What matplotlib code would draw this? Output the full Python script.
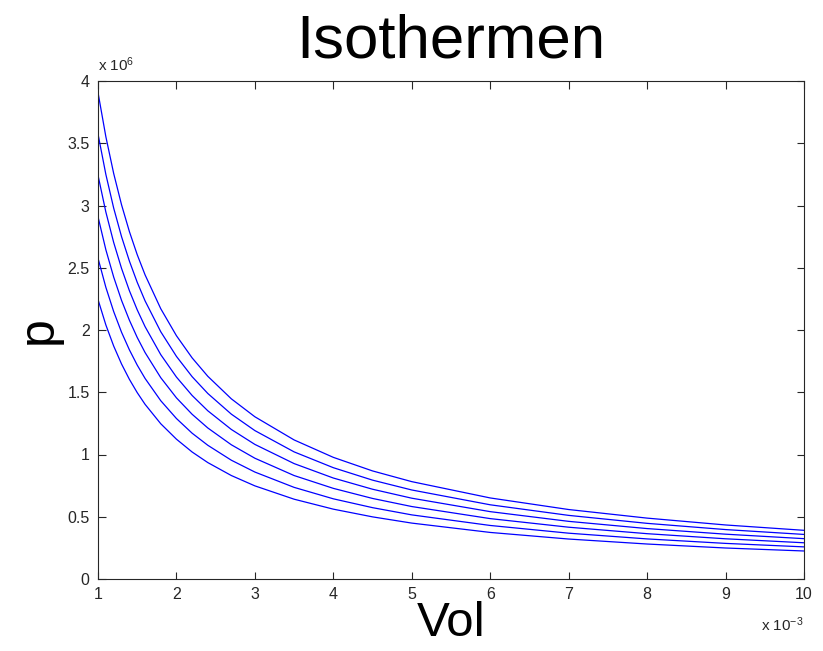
import matplotlib
matplotlib.use("Agg")
import matplotlib.pyplot as plt

plt.rcParams['font.family'] = ['Liberation Sans', 'DejaVu Sans']
plt.rcParams['mathtext.fontset'] = 'custom'
plt.rcParams['mathtext.rm'] = 'Liberation Sans'
plt.rcParams['mathtext.default'] = 'regular'

# volume in units of 1e-3
vol = [1.0, 1.1, 1.2, 1.3, 1.4, 1.5, 1.6, 1.8, 2.0, 2.2, 2.4, 2.7,
       3.0, 3.5, 4.0, 4.5, 5.0, 6.0, 7.0, 8.0, 9.0, 10.0]

# pressure in units of 1e6, one list per isotherm (hottest first)
p_a = [3.908, 3.553, 3.257, 3.006, 2.791, 2.605, 2.443, 2.171, 1.954, 1.776, 1.628, 1.447,
       1.303, 1.117, 0.977, 0.868, 0.782, 0.651, 0.558, 0.489, 0.434, 0.391]
p_b = [3.575, 3.250, 2.979, 2.750, 2.554, 2.383, 2.234, 1.986, 1.788, 1.625, 1.490, 1.324,
       1.192, 1.021, 0.894, 0.794, 0.715, 0.596, 0.511, 0.447, 0.397, 0.358]
p_c = [3.243, 2.948, 2.703, 2.495, 2.316, 2.162, 2.027, 1.802, 1.622, 1.474, 1.351, 1.201,
       1.081, 0.927, 0.811, 0.721, 0.649, 0.541, 0.463, 0.405, 0.360, 0.324]
p_d = [2.910, 2.645, 2.425, 2.238, 2.079, 1.940, 1.819, 1.617, 1.455, 1.323, 1.213, 1.078,
       0.970, 0.831, 0.728, 0.647, 0.582, 0.485, 0.416, 0.364, 0.323, 0.291]
p_e = [2.577, 2.343, 2.148, 1.982, 1.841, 1.718, 1.611, 1.432, 1.289, 1.171, 1.074, 0.954,
       0.859, 0.736, 0.644, 0.573, 0.515, 0.430, 0.368, 0.322, 0.286, 0.258]
p_f = [2.245, 2.041, 1.871, 1.727, 1.604, 1.497, 1.403, 1.247, 1.123, 1.020, 0.935, 0.831,
       0.748, 0.641, 0.561, 0.499, 0.449, 0.374, 0.321, 0.281, 0.249, 0.225]

xticks = [1, 2, 3, 4, 5, 6, 7, 8, 9, 10]
yticks = [0, 0.5, 1, 1.5, 2, 2.5, 3, 3.5, 4]
ytick_labels = ['0', '0.5', '1', '1.5', '2', '2.5', '3', '3.5', '4']

fig = plt.figure(figsize=(8.23, 6.51), dpi=100)
ax = fig.add_axes([98/823, 1 - 579/651, (804 - 98)/823, (579 - 81)/651])

for p in [p_a, p_b, p_c, p_d, p_e, p_f]:
    ax.plot(vol, p, color='#0000ff', lw=0.9)

ax.set_xlim(1, 10)
ax.set_ylim(0, 4)
ax.set_xticks(xticks)
ax.set_yticks(yticks)
ax.set_yticklabels(ytick_labels)
ax.tick_params(direction='in', length=5.4, width=0.8, labelsize=11.5,
               top=True, right=True, pad=6, colors='#262626')
ax.tick_params(axis='both', labelcolor='#262626')
for s in ax.spines.values():
    s.set_linewidth(0.8)
    s.set_color('#262626')

# exponent notes in MATLAB style
ax.text(0.0, 1.015, 'x 10$^{6}$', transform=ax.transAxes, fontsize=11, ha='left', va='bottom', color='#262626')
ax.text(1.0, -0.074, 'x 10$^{-3}$', transform=ax.transAxes, fontsize=11, ha='right', va='top', color='#262626')

ax.set_title('Isothermen', fontsize=44.5, pad=17)
ax.set_xlabel('Vol', fontsize=35.5, labelpad=-1)
ax.set_ylabel('p', fontsize=36, labelpad=4)

fig.savefig('out.png', dpi=100, facecolor='white')
